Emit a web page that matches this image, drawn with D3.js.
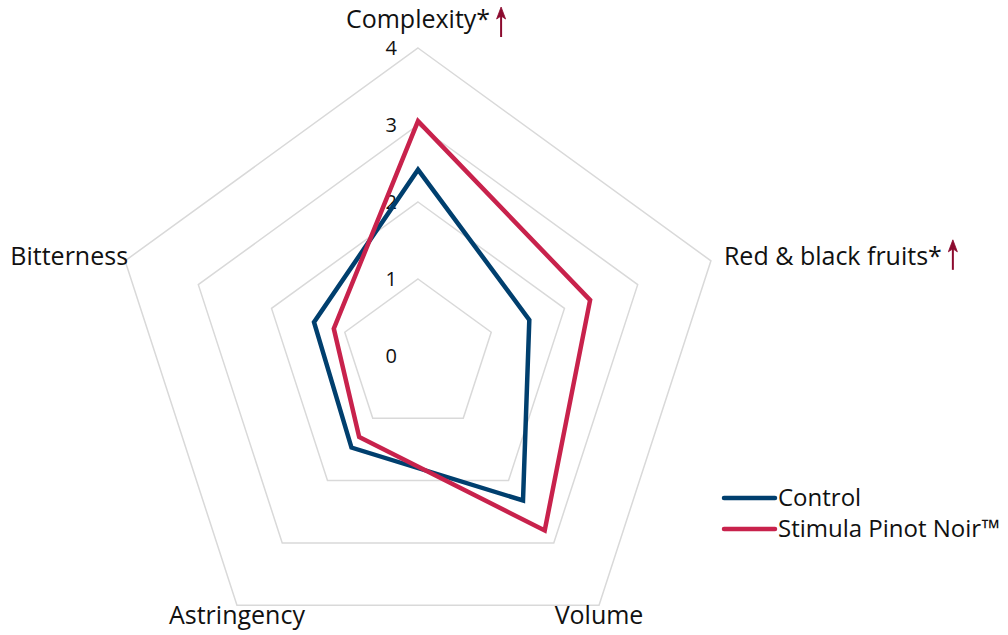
<!DOCTYPE html>
<html><head><meta charset="utf-8">
<script src="https://cdn.jsdelivr.net/npm/d3@7"></script>
<style>body{margin:0;background:#fff}svg{display:block}text{font-family:"Open Sans",sans-serif;fill:#111}</style>
</head><body><svg id="c" width="1008" height="635"></svg>
<script>
const axes = ["Complexity*", "Red & black fruits*", "Volume", "Astringency", "Bitterness"];
const arrowAxes = [true, true, false, false, false];
const controlValues = [2.42, 1.52, 2.32, 1.47, 1.42];
const stimulaValues = [3.05, 2.35, 2.8, 1.3, 1.15];
const seriesNames = ["Control", "Stimula Pinot Noir™"];
const seriesColors = ["#003f6e", "#c8224c"];
const tickValues = [0, 1, 2, 3, 4];

const svg = d3.select("#c");
const cx = 418, cy = 356;
const r = d3.scaleLinear().domain([0, 4]).range([0, 308]);
const ang = d3.scalePoint().domain(d3.range(axes.length)).range([0, 2*Math.PI*(axes.length-1)/axes.length]);
const pt = (i, v) => [cx + r(v)*Math.sin(ang(i)), cy - r(v)*Math.cos(ang(i))];

const g = svg.append("g");
// grid rings
tickValues.filter(t => t > 0).forEach(t => {
  g.append("path")
    .attr("d", d3.line()(axes.map((a, i) => pt(i, t))) + "Z")
    .attr("fill", "none").attr("stroke", "#d9d9d9").attr("stroke-width", 1.5);
});
// tick labels
g.selectAll(".tick").data(tickValues).join("text")
  .attr("x", cx - 21).attr("y", d => cy - r(d)).attr("dy", "0.35em")
  .attr("text-anchor", "end").style("font-size", "20px").text(d => d);

// series
const line = d3.line().curve(d3.curveLinearClosed);
[controlValues, stimulaValues].forEach((vals, s) => {
  g.append("path").attr("d", line(vals.map((v, i) => pt(i, v))))
    .attr("fill", "none").attr("stroke", seriesColors[s]).attr("stroke-width", 4.5)
    .attr("stroke-linejoin", "miter");
});

// axis labels
const arrowColor = "#8c0a2e";
function arrow(x, yTop, yBot) {
  g.append("line").attr("x1", x).attr("x2", x).attr("y1", yTop + 6).attr("y2", yBot)
    .attr("stroke", arrowColor).attr("stroke-width", 2);
  g.append("path").attr("d", `M${x-4.5},${yTop+12} L${x},${yTop} L${x+4.5},${yTop+12} L${x},${yTop+9} Z`)
    .attr("fill", arrowColor).attr("stroke", arrowColor).attr("stroke-width", 0.8).attr("stroke-linejoin", "round");
}
const fs = 25;
axes.forEach((a, i) => {
  const [x, y] = pt(i, 4);
  let t;
  if (i === 0) {
    t = g.append("text").attr("x", x).attr("y", y - 20).attr("text-anchor", "middle").text(a);
  } else if (i === 1) {
    t = g.append("text").attr("x", x + 13).attr("y", y + 4).attr("text-anchor", "start").text(a);
  } else if (i === 4) {
    t = g.append("text").attr("x", x + 3).attr("y", y + 4).attr("text-anchor", "end").text(a);
  } else {
    t = g.append("text").attr("x", x).attr("y", y + 19).attr("text-anchor", "middle").text(a);
  }
  t.style("font-size", fs + "px");
  if (arrowAxes[i]) {
    const bb = t.node().getBBox();
    arrow(bb.x + bb.width + 11, y + (i === 0 ? -41 : -21), y + (i === 0 ? -11 : 9));
  }
});

// legend
const lg = svg.append("g");
seriesNames.forEach((n, s) => {
  const y = 498 + s*31;
  lg.append("line").attr("x1", 724).attr("x2", 775).attr("y1", y).attr("y2", y)
    .attr("stroke", seriesColors[s]).attr("stroke-width", 4.5).attr("stroke-linecap", "round");
  lg.append("text").attr("x", 778).attr("y", y).attr("dy", "0.35em").style("font-size", "24px").text(n);
});
</script></body></html>
